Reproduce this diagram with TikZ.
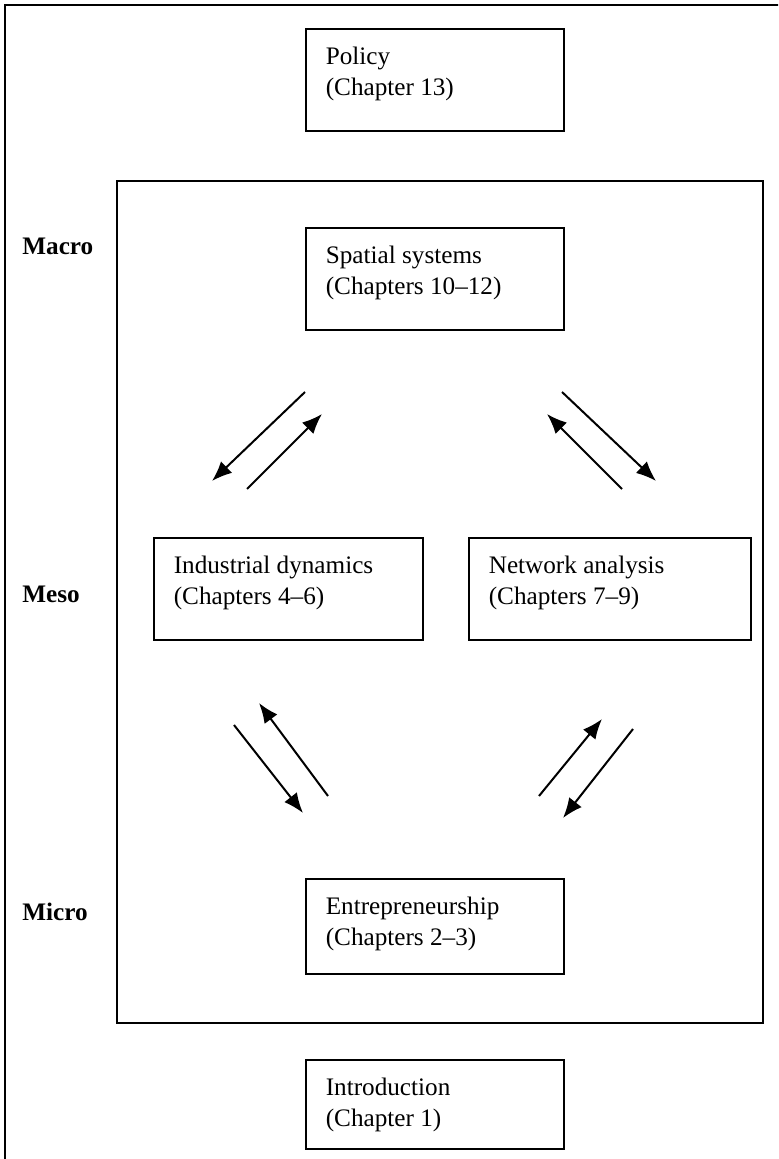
\documentclass[tikz,border=0pt]{standalone}
\usepackage{fontspec}
\setmainfont{Liberation Serif}
\usetikzlibrary{arrows.meta,positioning}

% text of a chapter box, set at the top of the box
\newcommand{\chaptext}[4]{\parbox[c][#2][t]{#1}{\vspace*{7.15pt}\strut#3\\#4}}

\tikzset{
    chapbox/.style={draw, line width=0.8pt, inner xsep=10pt, inner ysep=0pt, anchor=north west, align=left},
    levellabel/.style={anchor=base west, inner sep=0pt, font=\fontsize{12.6}{15.5}\selectfont\bfseries},
    flow/.style={-{Latex[length=10pt,width=8pt]}, line width=1pt}
}

\begin{document}
\begin{tikzpicture}[x=0.5pt, y=-0.5pt, font=\fontsize{12.6}{15.5}\selectfont]
    \useasboundingbox (0,0) rectangle (778,1159);

    % Outer frame (cut off at the right and bottom)
    \begin{scope}
        \clip (0,0) rectangle (778,1159);
        \draw[line width=0.8pt] (5,1200) |- (820,5);
    \end{scope}

    % Frame round the three levels
    \draw[line width=0.8pt] (117,181) rectangle (763,1023);

    % Define nodes
    \node[chapbox] (policy) at (305,28) {\chaptext{109pt}{51pt}{Policy}{(Chapter 13)}};
    \node[chapbox] (spatial) at (305,227) {\chaptext{109pt}{51pt}{Spatial systems}{(Chapters 10--12)}};
    \node[chapbox] (industry) at (153,537) {\chaptext{114.5pt}{51pt}{Industrial dynamics}{(Chapters 4--6)}};
    \node[chapbox] (network) at (468,537) {\chaptext{121pt}{51pt}{Network analysis}{(Chapters 7--9)}};
    \node[chapbox] (entre) at (305,878) {\chaptext{109pt}{47.5pt}{Entrepreneurship}{(Chapters 2--3)}};
    \node[chapbox] (intro) at (305,1059) {\chaptext{109pt}{44.5pt}{Introduction}{(Chapter 1)}};

    % Level labels
    \node[levellabel] (macro) at (22,255) {Macro};
    \node[levellabel] (meso) at (22,602) {Meso};
    \node[levellabel] (micro) at (22,920) {Micro};

    % Arrow ends between the boxes
    \coordinate (sp-l1) at (305,392);  \coordinate (in-u1) at (212,481);
    \coordinate (in-u2) at (247,489);  \coordinate (sp-l2) at (322,414);
    \coordinate (sp-r1) at (562,392);  \coordinate (ne-u1) at (656,481);
    \coordinate (ne-u2) at (622,489);  \coordinate (sp-r2) at (547,414);
    \coordinate (in-d1) at (234,725);  \coordinate (en-l1) at (303,813);
    \coordinate (en-l2) at (328,796);  \coordinate (in-d2) at (259,703);
    \coordinate (en-r1) at (539,796);  \coordinate (ne-d1) at (602,719);
    \coordinate (ne-d2) at (633,729);  \coordinate (en-r2) at (563,818);

    % Arrows
    \draw[flow] (sp-l1) -- (in-u1);
    \draw[flow] (in-u2) -- (sp-l2);
    \draw[flow] (sp-r1) -- (ne-u1);
    \draw[flow] (ne-u2) -- (sp-r2);
    \draw[flow] (in-d1) -- (en-l1);
    \draw[flow] (en-l2) -- (in-d2);
    \draw[flow] (en-r1) -- (ne-d1);
    \draw[flow] (ne-d2) -- (en-r2);
\end{tikzpicture}
\end{document}
